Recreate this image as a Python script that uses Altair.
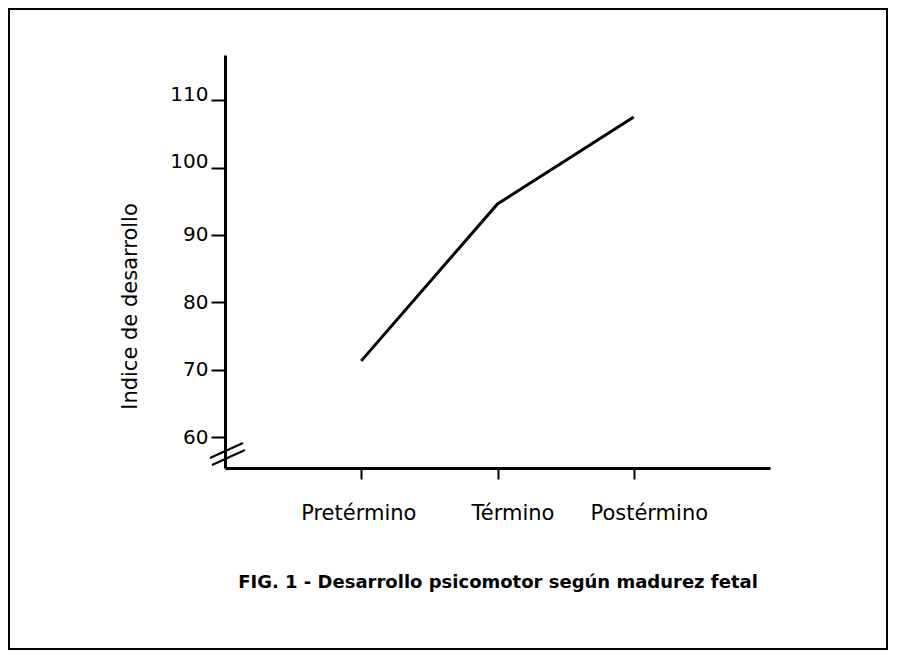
import altair as alt
import pandas as pd

categories = ["Pretérmino", "Término", "Postérmino"]
values = [71.3, 94.6, 107.5]
y_ticks = [60, 70, 80, 90, 100, 110]
y_title = "Indice de desarrollo"
caption = "FIG. 1 - Desarrollo psicomotor según madurez fetal"

df = pd.DataFrame({"cat": categories, "val": values})

W, H = 545, 413

x_enc = alt.X(
    "cat:O",
    sort=categories,
    scale=alt.Scale(type="point", padding=1.04, align=0.5),
    axis=alt.Axis(
        title=None,
        labelAngle=0,
        labelFont="DejaVu Sans",
        labelFontSize=21,
        labelColor="black",
        labelPadding=23,
        labelOffset={"condition": {"test": "datum.value === 'Pretérmino'", "value": -3}, "value": 15},
        tickSize=11,
        tickWidth=2,
        tickColor="black",
        domainColor="black",
        domainWidth=3,
    ),
)
y_enc = alt.Y(
    "val:Q",
    scale=alt.Scale(domain=[55.4, 116.7], nice=False, zero=False),
    axis=alt.Axis(
        values=y_ticks,
        title=y_title,
        titleFont="DejaVu Sans",
        titleFontSize=21,
        titleFontWeight="normal",
        titleColor="black",
        titleAngle=270,
        titleX=-95,
        titleY=251,
        titleAlign="center",
        titleBaseline="middle",
        labelFont="DejaVu Sans",
        labelFontSize=20,
        labelColor="black",
        labelPadding=3,
        labelBaseline={"condition": {"test": "datum.value >= 100", "value": "alphabetic"}, "value": "middle"},
        tickSize=14,
        tickWidth=2,
        tickColor="black",
        domainColor="black",
        domainWidth=3,
        grid=False,
    ),
)

line = alt.Chart(df).mark_line(color="black", strokeWidth=3).encode(x=x_enc, y=y_enc)

one = alt.Data(values=[{"k": 1}])

brk1 = alt.Chart(one).mark_rule(color="black", strokeWidth=2).encode(
    x=alt.value(-15), y=alt.value(403), x2=alt.value(18), y2=alt.value(388)
)
brk2 = alt.Chart(one).mark_rule(color="black", strokeWidth=2).encode(
    x=alt.value(-13), y=alt.value(410), x2=alt.value(20), y2=alt.value(395)
)

frame = alt.Chart(one).mark_rect(fill=None, stroke="black", strokeWidth=2, clip=False).encode(
    x=alt.value(-216), x2=alt.value(662), y=alt.value(-46), y2=alt.value(594)
)

cap = alt.Chart(one).mark_text(
    text=caption, font="DejaVu Sans", fontSize=18, fontWeight="bold", color="black",
    align="center", baseline="middle"
).encode(x=alt.value(273), y=alt.value(528))

chart = alt.layer(frame, line, brk1, brk2, cap).properties(
    width=W, height=H,
    autosize=alt.AutoSizeParams(type="none"),
    padding={"left": 217, "top": 47, "right": 119, "bottom": 184},
    background="white",
).configure_view(stroke=None)

chart.save("out.html", embed_options={"renderer": "svg", "actions": False})
